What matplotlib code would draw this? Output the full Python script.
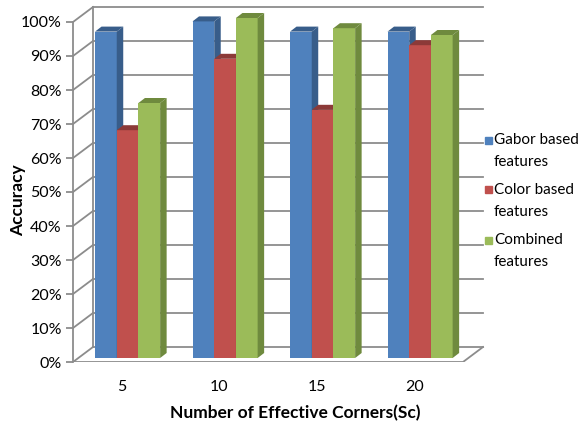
import numpy as np
import matplotlib.pyplot as plt
from matplotlib.patches import Polygon, Rectangle

categories = ['5', '10', '15', '20']
series = ['Gabor based\nfeatures', 'Color based\nfeatures', 'Combined\nfeatures']
gabor = [96, 99, 96, 96]
color = [67, 88, 73, 92]
combined = [75, 100, 97, 95]
values = [gabor, color, combined]

front_cols = ['#4F81BD', '#C0504D', '#9BBB59']
dark_cols = ['#385D8A', '#8C3A38', '#6F8A3E']
grid_col = '#8C8C8C'

plt.rcParams['font.family'] = ['Lato', 'DejaVu Sans']

W, H = 582, 428
fig = plt.figure(figsize=(W / 100, H / 100), dpi=100)
# axes placed so that 0% sits on the front floor edge
ax = fig.add_axes([73 / W, 66 / H, 417 / W, 358 / H])
px_x = 97.5   # pixels per category
px_y = 3.4    # pixels per percent
ax.set_xlim(-0.5, -0.5 + 417 / px_x)
ax.set_ylim(0, 358 / px_y)

# depth of the box (walls) and of each bar
dX, dY = 20 / px_x, 15 / px_y
bdx, bdy = 6.5 / px_x, 5 / px_y
w = 21.7 / px_x
base = 4 / px_y
n = len(categories)
x = np.arange(n)

# back wall gridlines and left side wall
for v in range(0, 101, 10):
    ax.plot([-0.5 + dX, n - 0.5 + dX], [v + dY, v + dY], color=grid_col, lw=1.3, zorder=1)
    ax.plot([-0.5, -0.5 + dX], [v, v + dY], color=grid_col, lw=1.3, zorder=1)
ax.plot([-0.5 + dX, -0.5 + dX], [dY, 100 + dY], color=grid_col, lw=1.3, zorder=1)
# floor
ax.plot([-0.5, n - 0.5, n - 0.5 + dX], [0, 0, dY], color=grid_col, lw=1.3, zorder=1)

# bars with side and top faces
z = 2
for j in range(n):
    for i, vals in enumerate(values):
        xc = x[j] - 0.274 + w / 2 + i * w
        v = vals[j]
        ax.bar(xc, v, width=w, bottom=base, color=front_cols[i], zorder=z)
        xr = xc + w / 2
        xl = xc - w / 2
        top = base + v
        side = Polygon([(xr, base), (xr + bdx, base + bdy), (xr + bdx, top + bdy), (xr, top)],
                       closed=True, facecolor=dark_cols[i], edgecolor='none', zorder=z)
        lid = Polygon([(xl, top), (xl + bdx, top + bdy), (xr + bdx, top + bdy), (xr, top)],
                      closed=True, facecolor=dark_cols[i], edgecolor='none', zorder=z)
        ax.add_patch(side)
        ax.add_patch(lid)
        z += 1

for s in ['top', 'right', 'bottom']:
    ax.spines[s].set_visible(False)
ax.spines['left'].set_bounds(0, 100)
ax.spines['left'].set_color(grid_col)
ax.spines['left'].set_linewidth(1.3)

ax.set_yticks(range(0, 101, 10))
ax.set_yticklabels([f'{v}%' for v in range(0, 101, 10)], fontsize=11.5)
ax.tick_params(axis='y', length=5, color=grid_col, width=1.3, pad=3)
ax.set_xticks(x)
ax.set_xticklabels(categories, fontsize=11.5)
ax.tick_params(axis='x', length=0, pad=13)

fig.text(295 / W, 1 - 413 / H, 'Number of Effective Corners(Sc)', ha='center', va='center',
         fontsize=12.5, fontweight='bold')
fig.text(18 / W, 1 - 200 / H, 'Accuracy', ha='center', va='center', rotation=90,
         fontsize=12.5, fontweight='bold')

# legend drawn by hand: square next to the first line of each two-line label
for i, lab in enumerate(series):
    yc = 140 + 50 * i
    fig.patches.append(Rectangle((485 / W, 1 - (yc + 3.5) / H), 7 / W, 7 / H,
                                 transform=fig.transFigure, color=front_cols[i]))
    fig.text(494 / W, 1 - (yc + 11) / H, lab, ha='left', va='center',
             fontsize=11, linespacing=1.8)

fig.savefig('out.png', dpi=100)
